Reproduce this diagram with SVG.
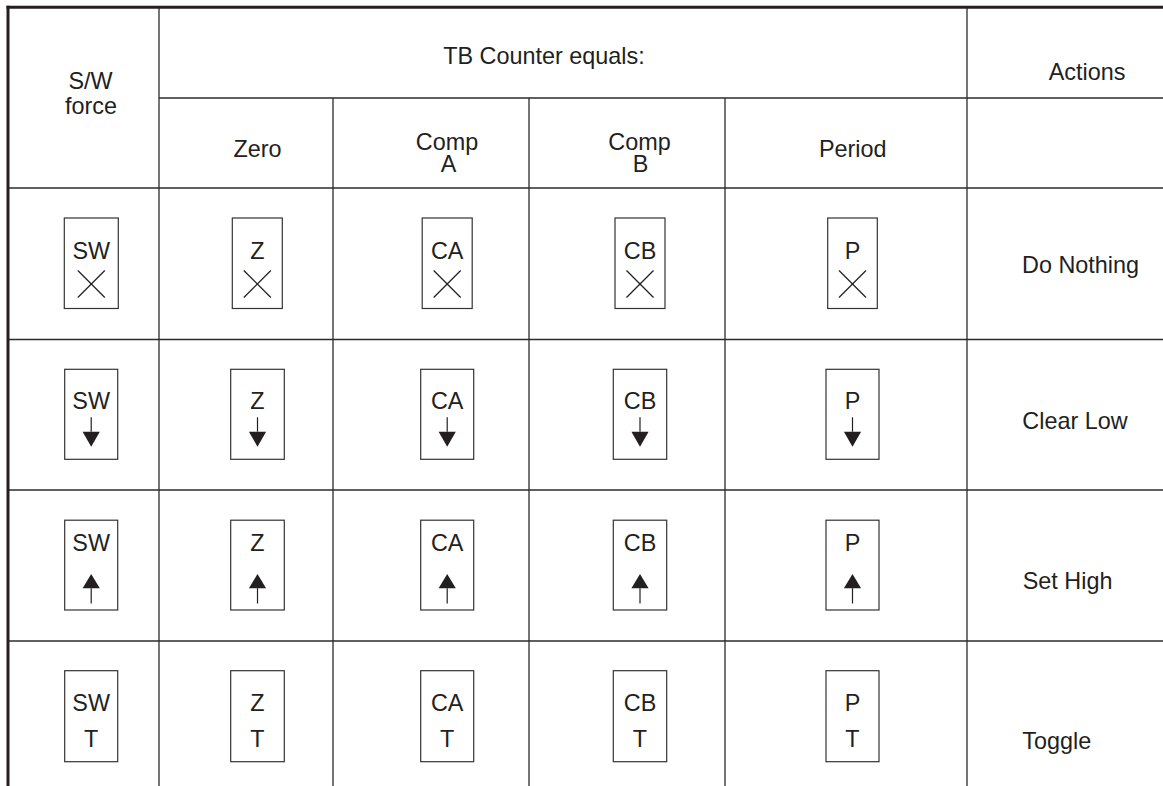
<svg xmlns="http://www.w3.org/2000/svg" xmlns:xlink="http://www.w3.org/1999/xlink" width="1163" height="786" viewBox="0 0 1163 786">
<style>
.t { font-family: "Liberation Sans", Arial, Helvetica, sans-serif; font-size: 23.4px; fill: #231f20; text-anchor: middle; }
.ts { text-anchor: start; }
.g { stroke: #2b2b2b; stroke-width: 1.3; fill: none; }
.thick { stroke: #231f20; stroke-width: 3; fill: none; }
.box { fill: none; stroke: #333; stroke-width: 1.2; }
.sym { stroke: #231f20; stroke-width: 1.2; fill: none; }
.head { fill: #231f20; stroke: none; }
</style>
<defs>
<g id="xmark"><line class="sym" x1="-13.5" y1="-13.5" x2="13.5" y2="13.5"/><line class="sym" x1="-13.5" y1="13.5" x2="13.5" y2="-13.5"/></g>
<g id="down"><line class="sym" x1="0" y1="-14.4" x2="0" y2="0"/><path class="head" d="M-8.6,0 L8.6,0 L0,15 Z"/></g>
<g id="up"><line class="sym" x1="0" y1="0" x2="0" y2="15.3"/><path class="head" d="M-8.6,0 L8.6,0 L0,-14.3 Z"/></g>
</defs>
<rect width="1163" height="786" fill="#fff"/>
<g id="grid">
<line class="g" x1="159" y1="7" x2="159" y2="786"/>
<line class="g" x1="333" y1="98" x2="333" y2="786"/>
<line class="g" x1="529" y1="98" x2="529" y2="786"/>
<line class="g" x1="725" y1="98" x2="725" y2="786"/>
<line class="g" x1="967" y1="7" x2="967" y2="786"/>
<line class="g" x1="159" y1="98" x2="1163" y2="98"/>
<line class="g" x1="8" y1="188" x2="1163" y2="188"/>
<line class="g" x1="8" y1="339.5" x2="1163" y2="339.5"/>
<line class="g" x1="8" y1="490" x2="1163" y2="490"/>
<line class="g" x1="8" y1="641" x2="1163" y2="641"/>
<line class="thick" x1="6.5" y1="7.2" x2="1163" y2="7.2"/>
<line class="thick" x1="8" y1="5.7" x2="8" y2="786"/>
</g>
<g id="header">
<text class="t" x="90.5" y="89.3">S/W</text>
<text class="t" x="91" y="114">force</text>
<text class="t" x="544" y="64">TB Counter equals:</text>
<text class="t" x="1087" y="80">Actions</text>
<text class="t" x="257.5" y="156.7">Zero</text>
<text class="t" x="447" y="150">Comp</text>
<text class="t" x="448.5" y="171.7">A</text>
<text class="t" x="639.5" y="150">Comp</text>
<text class="t" x="640.5" y="171.7">B</text>
<text class="t" x="852.7" y="156.7">Period</text>
</g>
<g id="row-nothing">
<g id="sw-x"><rect class="box" x="64.3" y="218" width="54" height="90.5"/><text class="t" x="91.3" y="259">SW</text><use xlink:href="#xmark" x="91.3" y="284"/></g>
<g id="z-x"><rect class="box" x="232.3" y="218" width="50" height="90.5"/><text class="t" x="257.3" y="259">Z</text><use xlink:href="#xmark" x="257.3" y="284"/></g>
<g id="ca-x"><rect class="box" x="422.2" y="218" width="50" height="90.5"/><text class="t" x="447.2" y="259">CA</text><use xlink:href="#xmark" x="447.2" y="284"/></g>
<g id="cb-x"><rect class="box" x="615" y="218" width="50" height="90.5"/><text class="t" x="640" y="259">CB</text><use xlink:href="#xmark" x="640" y="284"/></g>
<g id="p-x"><rect class="box" x="827.7" y="218" width="49.6" height="90.5"/><text class="t" x="852.5" y="259">P</text><use xlink:href="#xmark" x="852.5" y="284"/></g>
<text id="act-nothing" class="t ts" x="1022" y="273.3">Do Nothing</text>
</g>
<g id="row-clear">
<g id="sw-down"><rect class="box" x="64.7" y="369.3" width="53" height="90"/><text class="t" x="91.2" y="408.5">SW</text><use xlink:href="#down" x="91.2" y="431.7"/></g>
<g id="z-down"><rect class="box" x="230.7" y="369.3" width="53.6" height="90"/><text class="t" x="257.5" y="408.5">Z</text><use xlink:href="#down" x="257.5" y="431.7"/></g>
<g id="ca-down"><rect class="box" x="420.7" y="369.3" width="53" height="90"/><text class="t" x="447.2" y="408.5">CA</text><use xlink:href="#down" x="447.2" y="431.7"/></g>
<g id="cb-down"><rect class="box" x="613.3" y="369.3" width="53.4" height="90"/><text class="t" x="640" y="408.5">CB</text><use xlink:href="#down" x="640" y="431.7"/></g>
<g id="p-down"><rect class="box" x="826" y="369.3" width="53" height="90"/><text class="t" x="852.5" y="408.5">P</text><use xlink:href="#down" x="852.5" y="431.7"/></g>
<text id="act-clear" class="t ts" x="1022.3" y="429">Clear Low</text>
</g>
<g id="row-set">
<g id="sw-up"><rect class="box" x="64.7" y="520.2" width="53" height="89.8"/><text class="t" x="91.2" y="551">SW</text><use xlink:href="#up" x="91.2" y="588.2"/></g>
<g id="z-up"><rect class="box" x="230.7" y="520.2" width="53.6" height="89.8"/><text class="t" x="257.5" y="551">Z</text><use xlink:href="#up" x="257.5" y="588.2"/></g>
<g id="ca-up"><rect class="box" x="420.7" y="520.2" width="53" height="89.8"/><text class="t" x="447.2" y="551">CA</text><use xlink:href="#up" x="447.2" y="588.2"/></g>
<g id="cb-up"><rect class="box" x="613.3" y="520.2" width="53.4" height="89.8"/><text class="t" x="640" y="551">CB</text><use xlink:href="#up" x="640" y="588.2"/></g>
<g id="p-up"><rect class="box" x="826" y="520.2" width="53" height="89.8"/><text class="t" x="852.5" y="551">P</text><use xlink:href="#up" x="852.5" y="588.2"/></g>
<text id="act-set" class="t ts" x="1022.7" y="589">Set High</text>
</g>
<g id="row-toggle">
<g id="sw-t"><rect class="box" x="64.7" y="670.7" width="53" height="91"/><text class="t" x="91.2" y="711">SW</text><text class="t" x="91.2" y="747.3">T</text></g>
<g id="z-t"><rect class="box" x="230.7" y="670.7" width="53.6" height="91"/><text class="t" x="257.5" y="711">Z</text><text class="t" x="257.5" y="747.3">T</text></g>
<g id="ca-t"><rect class="box" x="420.7" y="670.7" width="53" height="91"/><text class="t" x="447.2" y="711">CA</text><text class="t" x="447.2" y="747.3">T</text></g>
<g id="cb-t"><rect class="box" x="613.3" y="670.7" width="53.4" height="91"/><text class="t" x="640" y="711">CB</text><text class="t" x="640" y="747.3">T</text></g>
<g id="p-t"><rect class="box" x="826" y="670.7" width="53" height="91"/><text class="t" x="852.5" y="711">P</text><text class="t" x="852.5" y="747.3">T</text></g>
<text id="act-toggle" class="t ts" x="1022.3" y="749.3">Toggle</text>
</g>
</svg>
